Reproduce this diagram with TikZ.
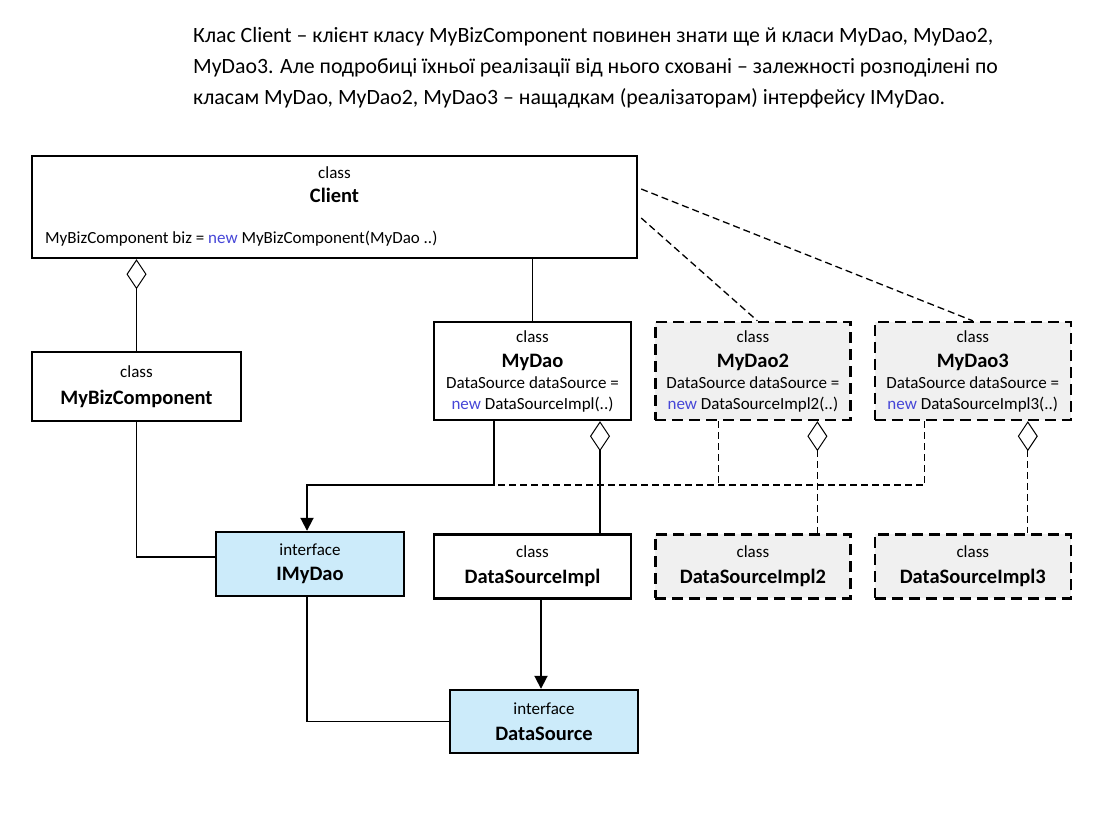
\documentclass[tikz,border=0pt]{standalone}
\usepackage{fontspec}
\setmainfont{Carlito}
\usetikzlibrary{positioning, arrows.meta}

\definecolor{ifaceblue}{RGB}{204,235,250}
\definecolor{altgray}{RGB}{240,240,240}
\definecolor{kwblue}{RGB}{70,70,215}
\newcommand{\kw}[1]{\textcolor{kwblue}{#1}}
\newcommand{\cname}[1]{{\fontsize{20.5}{24}\selectfont\bfseries #1}}

\tikzset{
  umlbox/.style={draw, line width=2.4pt, align=center, inner sep=2pt, font=\fontsize{17}{21}\selectfont},
  altbox/.style={umlbox, fill=altgray, dash pattern=on 11pt off 6pt},
  ifacebox/.style={umlbox, fill=ifaceblue},
  link/.style={line width=1.9pt},
  dlink/.style={line width=1.3pt, dash pattern=on 7pt off 4pt},
  agg/.style={arrows={Diamond[open, length=30pt, width=20pt, line width=1pt]-}},
}

\begin{document}
\begin{tikzpicture}[x=1pt, y=-1pt, >={Triangle[length=13pt, width=13pt]}]
    \useasboundingbox (0,0) rectangle (1096,826);
    % note above the diagram
    \node[anchor=north west, align=left, inner sep=0pt, font=\fontsize{21.8}{31}\selectfont] (note) at (193,27)
      {Клас Client – клієнт класу MyBizComponent повинен знати ще й класи MyDao, MyDao2,\\
       MyDao3. Але подробиці їхньої реалізації від нього сховані – залежності розподілені по\\
       класам MyDao, MyDao2, MyDao3 – нащадкам (реалізаторам) інтерфейсу IMyDao.};

    % classes
    \node[umlbox, minimum width=605pt, minimum height=102pt] (client) at (334.5,207) {};
    \node[below=8pt of client.north, align=center, font=\fontsize{17}{21}\selectfont] (client-title) {class\\[3pt]\cname{Client}};
    \node[anchor=west, inner sep=0pt, font=\fontsize{17}{21}\selectfont] (client-field) at (45,239)
      {MyBizComponent biz = \kw{new} MyBizComponent(MyDao ..)};
    \node[umlbox, minimum width=209pt, minimum height=69pt] (bizcomp) at (136.5,386.5) {class\\[6pt]\cname{MyBizComponent}};
    \node[umlbox, minimum width=197pt, minimum height=98pt] (mydao) at (532.5,371)
      {class\\[4pt]\cname{MyDao}\\DataSource dataSource =\\\kw{new} DataSourceImpl(..)};
    \node[altbox, minimum width=195pt, minimum height=98pt, right=22pt of mydao] (mydao2)
      {class\\[4pt]\cname{MyDao2}\\DataSource dataSource =\\\kw{new} DataSourceImpl2(..)};
    \node[altbox, minimum width=196pt, minimum height=98pt, right=22pt of mydao2] (mydao3)
      {class\\[4pt]\cname{MyDao3}\\DataSource dataSource =\\\kw{new} DataSourceImpl3(..)};
    \node[umlbox, minimum width=197pt, minimum height=64pt, below=112pt of mydao] (dsimpl) {class\\[5pt]\cname{DataSourceImpl}};
    \node[altbox, minimum width=195pt, minimum height=64pt, below=112pt of mydao2] (dsimpl2) {class\\[5pt]\cname{DataSourceImpl2}};
    \node[altbox, minimum width=196pt, minimum height=64pt, below=112pt of mydao3] (dsimpl3) {class\\[5pt]\cname{DataSourceImpl3}};

    % interfaces
    \node[ifacebox, minimum width=188pt, minimum height=64pt] (imydao) at (310,564) {interface\\[4pt]\cname{IMyDao}};
    \node[ifacebox, minimum width=188pt, minimum height=63pt] (datasource) at (544,721.5) {interface\\[5pt]\cname{DataSource}};

    % connectors
    \coordinate (daojoin) at (494,485);
    \draw[link, agg] (client.south -| bizcomp.north) -- (bizcomp.north);
    \draw[link] (client.south -| mydao.north) -- (mydao.north);
    \draw[link] (bizcomp.south) |- ([yshift=7pt]imydao.west);
    \draw[link, ->] ([xshift=-38.5pt]mydao.south) -- (daojoin) -| ([xshift=-3pt]imydao.north);
    \draw[dlink] ([xshift=-48pt]mydao3.south) |- (daojoin);
    \draw[dlink] ([xshift=-34.5pt]mydao2.south) -- ([xshift=-34.5pt]mydao2.south |- daojoin);
    \draw[link, agg] ([xshift=67.5pt]mydao.south) -- ([xshift=67.5pt]dsimpl.north);
    \draw[dlink, agg] ([xshift=64.5pt]mydao2.south) -- ([xshift=64.5pt]dsimpl2.north);
    \draw[dlink, agg] ([xshift=55pt]mydao3.south) -- ([xshift=55pt]dsimpl3.north);
    \draw[link, ->] ([xshift=8.5pt]dsimpl.south) -- ([xshift=8.5pt]dsimpl.south |- datasource.north);
    \draw[link] ([xshift=-3pt]imydao.south) |- (datasource.west);
    \draw[dlink] ([xshift=3pt, yshift=18pt]client.east) -- (mydao3.north);
    \draw[dlink] ([xshift=3pt, yshift=-11pt]client.east) -- ([xshift=4.5pt]mydao2.north);
\end{tikzpicture}
\end{document}
